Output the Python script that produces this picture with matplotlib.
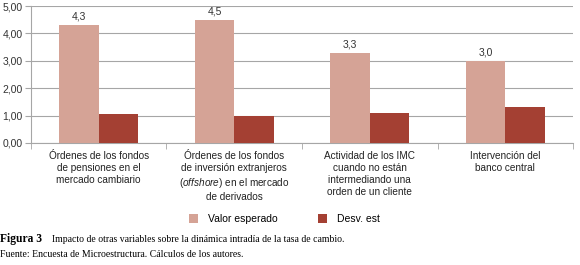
import numpy as np
import matplotlib.pyplot as plt

categories = ["Órdenes de los fondos\nde pensiones en el\nmercado cambiario",
              "Órdenes de los fondos\nde inversión extranjeros\n$\\it{(offshore)}$ en el mercado\nde derivados",
              "Actividad de los IMC\ncuando no están\nintermediando una\norden de un cliente",
              "Intervención del\nbanco central"]
valor_esperado = [4.3, 4.5, 3.3, 3.0]
desv_est = [1.05, 0.99, 1.11, 1.30]
yticks = [0, 1, 2, 3, 4, 5]

light = '#D5A396'
dark = '#A44033'
grid = '#A6A6A6'

plt.rcParams['font.family'] = ['Liberation Sans', 'DejaVu Sans']
plt.rcParams['mathtext.fontset'] = 'custom'
plt.rcParams['mathtext.it'] = 'Liberation Sans:italic'
plt.rcParams['mathtext.rm'] = 'Liberation Sans'

fig = plt.figure(figsize=(5.8, 2.65), dpi=100)
ax = fig.add_axes([0.0534, 0.4604, 0.9346, 0.5166])

x = np.arange(len(categories))
w = 0.29
ax.bar(x - w / 2, valor_esperado, w, color=light, label='Valor esperado', zorder=3)
ax.bar(x + w / 2, desv_est, w, color=dark, label='Desv. est', zorder=3)

for xi, v in zip(x, valor_esperado):
    ax.text(xi - w / 2, v + 0.12, '{:.1f}'.format(v).replace('.', ','),
            ha='center', va='bottom', fontsize=7.5, color='#333333')

ax.set_xlim(-0.5, len(categories) - 0.5)
ax.set_ylim(0, 5)
ax.set_yticks(yticks)
ax.set_yticklabels(['{:.2f}'.format(t).replace('.', ',') for t in yticks], fontsize=7.5, color='#333333')
ax.yaxis.grid(True, color=grid, linewidth=0.8, zorder=0)
ax.tick_params(axis='y', length=4, color=grid, pad=2)

ax.set_xticks(x)
ax.set_xticklabels(categories, fontsize=7.2, color='#222222', linespacing=1.24)
ax.tick_params(axis='x', which='major', length=0, pad=6)
ax.set_xticks(np.arange(len(categories) + 1) - 0.5, minor=True)
ax.tick_params(axis='x', which='minor', length=4, color=grid)

for s in ['top', 'right']:
    ax.spines[s].set_visible(False)
for s in ['left', 'bottom']:
    ax.spines[s].set_color(grid)
    ax.spines[s].set_linewidth(0.8)

fig.legend(loc='center', bbox_to_anchor=(0.49, 0.174), ncol=2, frameon=False,
           fontsize=7.5, handlelength=0.9, handleheight=0.9, columnspacing=3.9,
           handletextpad=0.9)

fig.text(0.0, 0.097, "Figura 3", fontsize=8.3, family='Liberation Serif',
         weight='bold', va='center')
fig.text(52 / 580, 0.097, "Impacto de otras variables sobre la dinámica intradía de la tasa de cambio.",
         fontsize=7.0, family='Liberation Serif', va='center')
fig.text(0.0, 0.038, "Fuente: Encuesta de Microestructura. Cálculos de los autores.",
         fontsize=7.0, family='Liberation Serif', va='center')

fig.savefig('out.png', dpi=100)
